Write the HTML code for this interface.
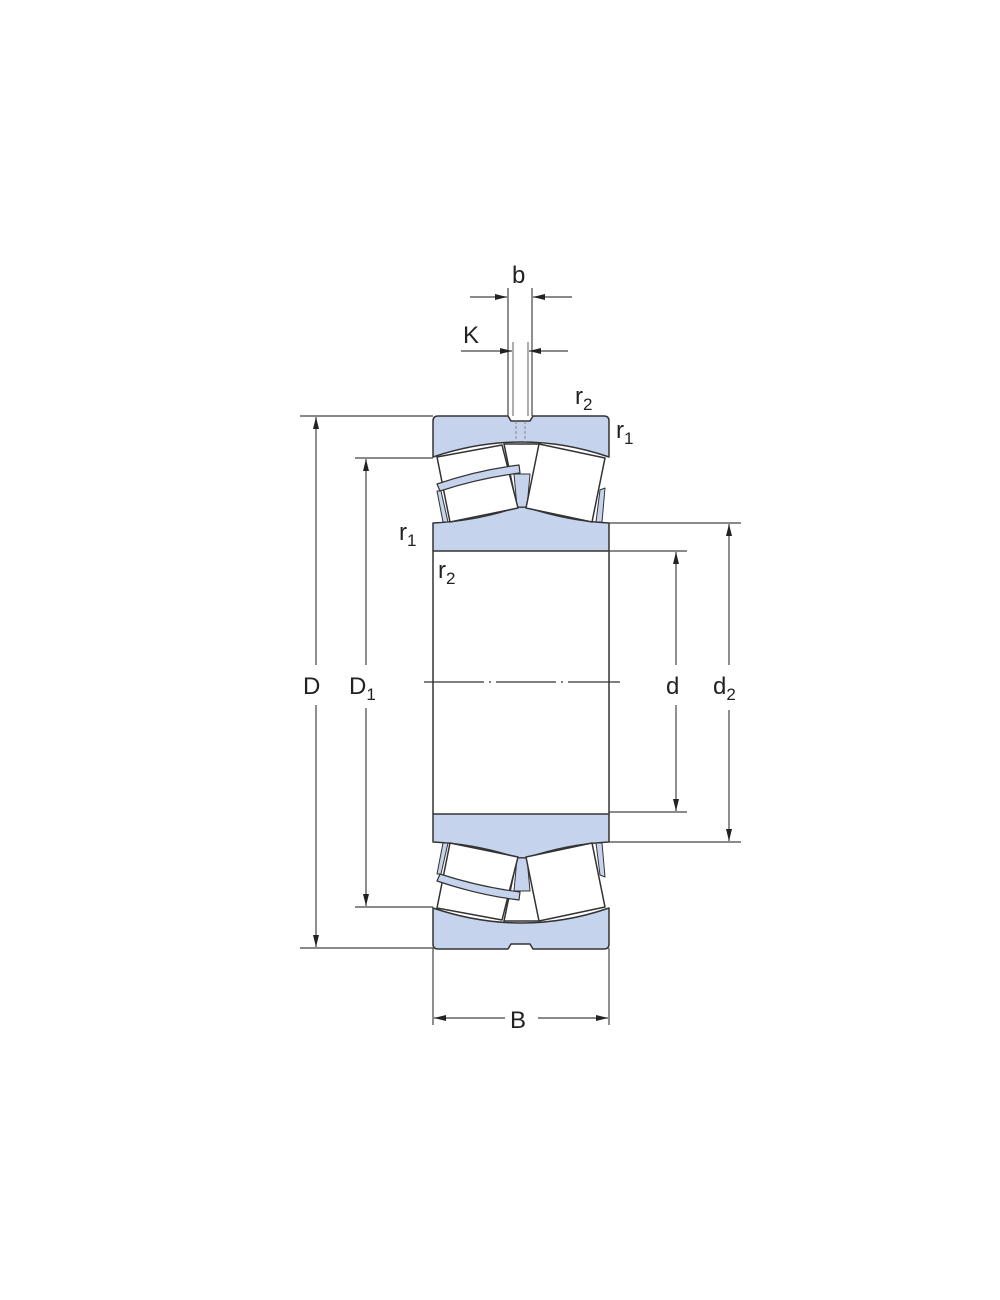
<!DOCTYPE html>
<html><head><style>
html,body{margin:0;padding:0;background:#fff;}
svg{display:block;}
text{font-family:"Liberation Sans",Arial,sans-serif;fill:#222;}
</style></head><body>
<svg width="1000" height="1300" viewBox="0 0 1000 1300" xmlns="http://www.w3.org/2000/svg">
<defs>
<marker id="ar" viewBox="0 0 12 6" refX="12" refY="3" markerWidth="12" markerHeight="6" markerUnits="userSpaceOnUse" orient="auto">
<path d="M0,0 L12,3 L0,6 Z" fill="#222"/>
</marker>
<g id="half" stroke="#333" stroke-width="1.5" stroke-linejoin="round">
  <path d="M433,421 Q433,416 438,416 L508,416 L511,421 L530,421 L533,416 L604,416 Q609,416 609,421 L609,457 Q522,427 433,457 Z" fill="#c6d3ec"/>
  <path d="M433,523 Q476,521 518,507 L526,507 Q568,521 609,523 L609,551 L433,551 Z" fill="#c6d3ec"/>
  <path d="M504,444 L540,444 L527,507 L517,507 Z" fill="#fff"/>
  <path d="M514,474 L530,474 L527,507 L517,507 Z" fill="#c6d3ec" stroke-width="1"/>
  <path d="M437,457 L502,445 L518,508 L450,522 Z" fill="#fff"/>
  <path d="M539,444 L605,458 L592,522 L526,508 Z" fill="#fff"/>
  <path d="M437,484 Q478,470 519,465 L520,473 Q480,478 440,491 Z" fill="#c6d3ec" stroke-width="1.2"/>
  <path d="M437,491 L441,491 L448,522 L443,522 Z" fill="#c6d3ec" stroke-width="1"/>
  <path d="M600,490 L605,488 L602,522 L596,522 Z" fill="#c6d3ec" stroke-width="1"/>
</g>
</defs>

<use href="#half"/>
<use href="#half" transform="translate(0,1365) scale(1,-1)"/>
<line x1="516" y1="421" x2="516" y2="442" stroke="#888" stroke-width="1" stroke-dasharray="3,2"/>
<line x1="525" y1="421" x2="525" y2="442" stroke="#888" stroke-width="1" stroke-dasharray="3,2"/>

<g stroke="#333" stroke-width="1.5">
<line x1="433" y1="551" x2="433" y2="814"/>
<line x1="609" y1="551" x2="609" y2="814"/>
</g>
<line x1="424" y1="682" x2="620" y2="682" stroke="#333" stroke-width="1.2" stroke-dasharray="60,5,2,5"/>

<g stroke="#444" stroke-width="1.2" fill="none">
<line x1="300" y1="416" x2="433" y2="416"/>
<line x1="300" y1="948" x2="433" y2="948"/>
<line x1="355" y1="458" x2="433" y2="458"/>
<line x1="355" y1="907" x2="433" y2="907"/>
<line x1="609" y1="551" x2="687" y2="551"/>
<line x1="609" y1="812" x2="687" y2="812"/>
<line x1="609" y1="523" x2="741" y2="523"/>
<line x1="609" y1="842" x2="741" y2="842"/>
<line x1="433" y1="948" x2="433" y2="1025"/>
<line x1="609" y1="948" x2="609" y2="1025"/>
<line x1="508" y1="288" x2="508" y2="416"/>
<line x1="532" y1="288" x2="532" y2="416"/>
<line x1="513" y1="342" x2="513" y2="416" stroke="#777"/>
<line x1="528" y1="342" x2="528" y2="416" stroke="#777"/>
</g>

<g stroke="#444" stroke-width="1.2" fill="none">
<line x1="316" y1="665" x2="316" y2="417" marker-end="url(#ar)"/>
<line x1="316" y1="705" x2="316" y2="947" marker-end="url(#ar)"/>
<line x1="366" y1="665" x2="366" y2="459" marker-end="url(#ar)"/>
<line x1="366" y1="708" x2="366" y2="906" marker-end="url(#ar)"/>
<line x1="676" y1="665" x2="676" y2="552" marker-end="url(#ar)"/>
<line x1="676" y1="705" x2="676" y2="811" marker-end="url(#ar)"/>
<line x1="729" y1="665" x2="729" y2="524" marker-end="url(#ar)"/>
<line x1="729" y1="710" x2="729" y2="841" marker-end="url(#ar)"/>
<line x1="505" y1="1018" x2="434" y2="1018" marker-end="url(#ar)"/>
<line x1="538" y1="1018" x2="608" y2="1018" marker-end="url(#ar)"/>
<line x1="470" y1="297" x2="507" y2="297" marker-end="url(#ar)"/>
<line x1="572" y1="297" x2="533" y2="297" marker-end="url(#ar)"/>
<line x1="461" y1="351" x2="512" y2="351" marker-end="url(#ar)"/>
<line x1="568" y1="351" x2="529" y2="351" marker-end="url(#ar)"/>
</g>

<g font-size="24">
<text x="303" y="694">D</text>
<text x="349" y="694">D<tspan font-size="17" dy="6">1</tspan></text>
<text x="666" y="694">d</text>
<text x="713" y="694">d<tspan font-size="17" dy="6">2</tspan></text>
<text x="510" y="1028">B</text>
<text x="512" y="283">b</text>
<text x="463" y="343">K</text>
<text x="575" y="404">r<tspan font-size="17" dy="6">2</tspan></text>
<text x="616" y="438">r<tspan font-size="17" dy="6">1</tspan></text>
<text x="399" y="540">r<tspan font-size="17" dy="6">1</tspan></text>
<text x="438" y="578">r<tspan font-size="17" dy="6">2</tspan></text>
</g>
</svg>
</body></html>
